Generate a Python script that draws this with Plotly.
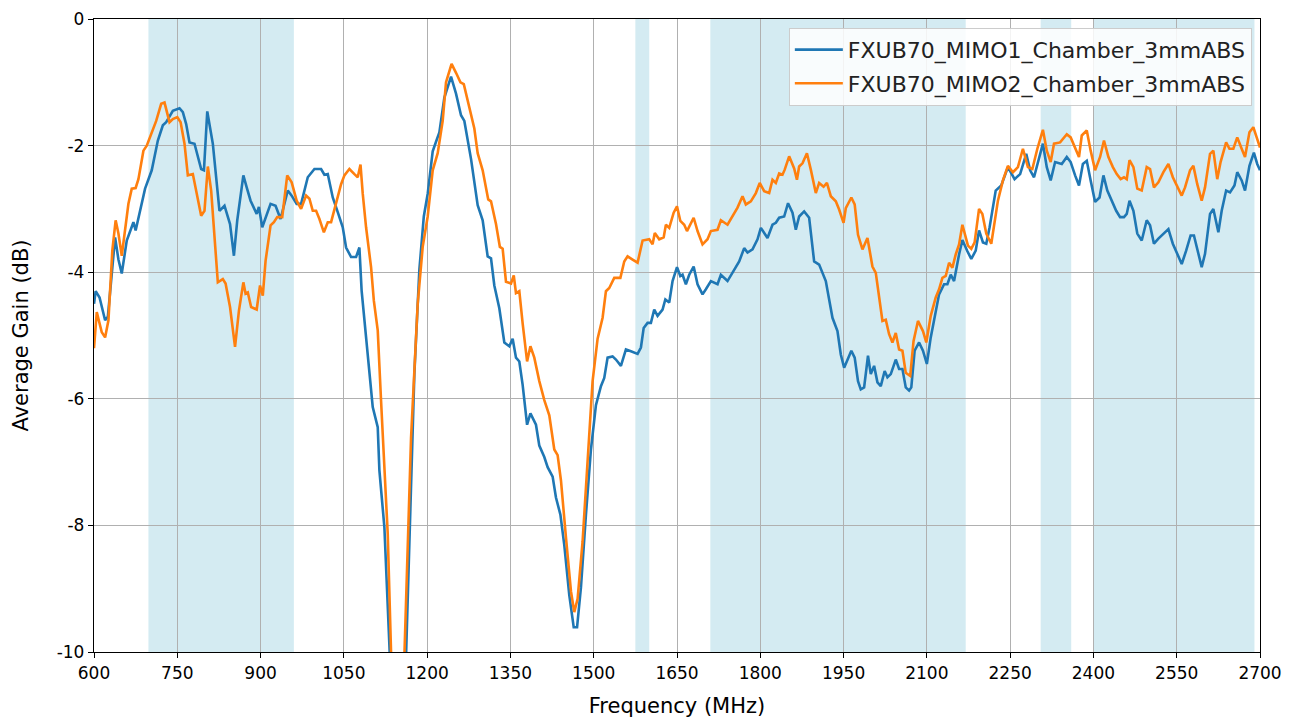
import plotly.graph_objects as go

# ---- data ----
freq_mimo1 = [600, 603, 610, 620, 625, 632, 638, 644, 650, 659, 671, 675, 684, 692, 704, 715, 724, 730, 742, 754, 760, 766, 772, 781, 793, 798, 804, 814, 826, 835, 845, 852, 858, 869, 875, 882, 893, 897, 903, 918, 927, 936, 949, 956, 965, 973, 985, 997, 1009, 1015, 1021, 1030, 1039, 1048, 1054, 1063, 1072, 1078, 1082, 1093, 1102, 1111, 1114, 1123, 1132, 1147, 1162, 1177, 1186, 1194, 1201, 1210, 1216, 1222, 1231, 1243, 1252, 1261, 1267, 1279, 1291, 1300, 1309, 1315, 1321, 1330, 1339, 1348, 1354, 1360, 1366, 1372, 1380, 1386, 1396, 1402, 1411, 1417, 1426, 1432, 1440, 1447, 1456, 1464, 1470, 1477, 1486, 1495, 1504, 1513, 1519, 1525, 1534, 1540, 1549, 1558, 1567, 1579, 1585, 1590, 1597, 1603, 1609, 1615, 1624, 1629, 1636, 1642, 1650, 1656, 1660, 1666, 1672, 1680, 1687, 1696, 1702, 1711, 1723, 1729, 1741, 1752, 1762, 1771, 1777, 1786, 1795, 1801, 1813, 1822, 1828, 1834, 1843, 1850, 1858, 1864, 1870, 1879, 1888, 1897, 1906, 1918, 1930, 1939, 1945, 1951, 1957, 1964, 1970, 1976, 1981, 1987, 1994, 1999, 2005, 2011, 2017, 2024, 2029, 2035, 2044, 2050, 2056, 2062, 2068, 2072, 2078, 2086, 2093, 2100, 2107, 2116, 2122, 2131, 2137, 2143, 2149, 2158, 2164, 2173, 2180, 2188, 2194, 2201, 2207, 2213, 2224, 2234, 2246, 2258, 2268, 2279, 2286, 2293, 2301, 2309, 2316, 2323, 2331, 2343, 2352, 2359, 2367, 2374, 2381, 2388, 2395, 2403, 2411, 2418, 2425, 2433, 2441, 2448, 2455, 2460, 2465, 2472, 2479, 2487, 2496, 2502, 2509, 2517, 2526, 2535, 2543, 2550, 2559, 2567, 2575, 2581, 2589, 2595, 2601, 2610, 2616, 2625, 2631, 2639, 2646, 2654, 2659, 2667, 2673, 2681, 2689, 2695, 2700]
gain_mimo1 = [-4.5, -4.3, -4.4, -4.76, -4.7, -4.0, -3.45, -3.8, -4.02, -3.5, -3.21, -3.34, -3.0, -2.68, -2.39, -1.92, -1.68, -1.63, -1.45, -1.41, -1.47, -1.66, -1.95, -1.97, -2.37, -2.39, -1.46, -1.97, -3.03, -2.95, -3.24, -3.74, -3.18, -2.47, -2.66, -2.87, -3.08, -2.97, -3.29, -2.92, -2.95, -3.16, -2.71, -2.79, -2.92, -2.92, -2.5, -2.37, -2.37, -2.46, -2.45, -2.82, -3.05, -3.29, -3.61, -3.76, -3.76, -3.61, -4.29, -5.24, -6.13, -6.45, -7.13, -8.03, -10.0, -13.0, -10.07, -5.6, -3.96, -3.12, -2.76, -2.09, -1.94, -1.79, -1.24, -0.91, -1.18, -1.52, -1.61, -2.21, -2.94, -3.18, -3.75, -3.78, -4.21, -4.57, -5.11, -5.17, -5.05, -5.35, -5.41, -5.78, -6.41, -6.23, -6.41, -6.74, -6.92, -7.08, -7.23, -7.56, -7.83, -8.31, -9.1, -9.61, -9.61, -8.98, -7.83, -6.8, -6.1, -5.8, -5.67, -5.35, -5.33, -5.38, -5.48, -5.22, -5.25, -5.29, -5.19, -4.88, -4.8, -4.8, -4.59, -4.69, -4.59, -4.43, -4.48, -4.14, -3.92, -4.06, -4.04, -4.19, -4.04, -3.91, -4.19, -4.35, -4.27, -4.14, -4.19, -4.04, -4.14, -3.98, -3.83, -3.62, -3.69, -3.64, -3.48, -3.3, -3.46, -3.25, -3.22, -3.14, -3.12, -2.91, -3.06, -3.33, -3.12, -3.04, -3.14, -3.83, -3.88, -4.14, -4.72, -4.93, -5.3, -5.51, -5.38, -5.24, -5.35, -5.72, -5.85, -5.82, -5.32, -5.61, -5.48, -5.74, -5.8, -5.56, -5.66, -5.61, -5.38, -5.53, -5.53, -5.82, -5.87, -5.82, -5.24, -5.11, -5.24, -5.45, -5.03, -4.61, -4.35, -4.19, -4.19, -4.04, -4.14, -3.72, -3.49, -3.67, -3.79, -3.66, -3.34, -3.53, -3.55, -3.29, -2.71, -2.63, -2.34, -2.53, -2.45, -2.13, -2.39, -2.5, -2.24, -1.97, -2.34, -2.55, -2.26, -2.29, -2.18, -2.26, -2.47, -2.63, -2.29, -2.24, -2.55, -2.89, -2.82, -2.47, -2.71, -2.87, -3.03, -3.13, -3.13, -3.08, -2.87, -3.03, -3.39, -3.5, -3.18, -3.26, -3.55, -3.47, -3.39, -3.32, -3.55, -3.68, -3.87, -3.66, -3.42, -3.42, -3.71, -3.92, -3.71, -3.08, -3.0, -3.37, -3.03, -2.71, -2.74, -2.63, -2.42, -2.55, -2.71, -2.32, -2.11, -2.29, -2.39]

freq_mimo2 = [600, 605, 614, 620, 626, 633, 639, 644, 650, 656, 662, 668, 675, 680, 689, 695, 704, 712, 721, 727, 736, 742, 750, 756, 763, 769, 778, 787, 793, 799, 805, 811, 817, 823, 832, 837, 845, 854, 861, 869, 873, 877, 883, 893, 899, 904, 909, 918, 924, 930, 939, 948, 956, 965, 973, 982, 988, 994, 1000, 1006, 1014, 1021, 1027, 1036, 1045, 1051, 1060, 1069, 1075, 1080, 1084, 1090, 1099, 1104, 1111, 1117, 1123, 1129, 1135, 1147, 1159, 1171, 1183, 1192, 1201, 1210, 1219, 1228, 1234, 1244, 1252, 1260, 1266, 1276, 1285, 1291, 1300, 1310, 1315, 1324, 1331, 1336, 1342, 1351, 1356, 1360, 1366, 1372, 1380, 1386, 1393, 1402, 1411, 1420, 1429, 1435, 1441, 1450, 1459, 1465, 1471, 1480, 1489, 1498, 1507, 1516, 1522, 1528, 1537, 1548, 1555, 1561, 1570, 1579, 1588, 1600, 1606, 1610, 1618, 1626, 1630, 1636, 1644, 1650, 1656, 1663, 1668, 1674, 1680, 1687, 1696, 1705, 1711, 1723, 1729, 1741, 1750, 1759, 1768, 1774, 1783, 1792, 1799, 1807, 1816, 1822, 1828, 1834, 1840, 1844, 1852, 1861, 1866, 1870, 1876, 1884, 1891, 1900, 1906, 1914, 1920, 1927, 1936, 1942, 1950, 1954, 1964, 1970, 1976, 1984, 1993, 2002, 2008, 2014, 2020, 2026, 2032, 2038, 2044, 2050, 2056, 2062, 2070, 2076, 2084, 2093, 2099, 2107, 2116, 2122, 2128, 2134, 2140, 2146, 2152, 2158, 2164, 2174, 2180, 2186, 2194, 2200, 2207, 2216, 2219, 2228, 2237, 2246, 2255, 2264, 2273, 2282, 2290, 2299, 2309, 2316, 2323, 2329, 2340, 2346, 2352, 2359, 2367, 2374, 2379, 2388, 2395, 2403, 2412, 2419, 2427, 2435, 2442, 2449, 2455, 2460, 2465, 2472, 2479, 2487, 2496, 2502, 2509, 2517, 2526, 2535, 2543, 2550, 2559, 2565, 2574, 2580, 2587, 2595, 2601, 2610, 2616, 2623, 2629, 2639, 2645, 2652, 2659, 2667, 2673, 2681, 2688, 2694, 2700]
gain_mimo2 = [-5.2, -4.63, -4.95, -5.03, -4.76, -3.66, -3.18, -3.39, -3.74, -3.32, -2.92, -2.68, -2.67, -2.53, -2.08, -2.0, -1.79, -1.61, -1.34, -1.32, -1.63, -1.58, -1.55, -1.63, -1.97, -2.47, -2.45, -2.82, -3.11, -3.03, -2.33, -2.71, -3.39, -4.16, -4.11, -4.18, -4.55, -5.18, -4.61, -4.16, -4.34, -4.32, -4.55, -4.59, -4.21, -4.37, -3.82, -3.26, -3.21, -3.13, -3.13, -2.47, -2.58, -2.87, -3.0, -2.79, -2.84, -3.03, -3.03, -3.16, -3.37, -3.21, -3.21, -2.92, -2.61, -2.47, -2.37, -2.45, -2.5, -2.3, -2.76, -3.29, -3.92, -4.45, -4.92, -6.03, -7.13, -8.13, -10.0, -14.0, -10.07, -6.62, -4.5, -3.6, -3.12, -2.39, -2.12, -1.61, -1.0, -0.71, -0.85, -1.0, -1.03, -1.4, -1.73, -2.12, -2.39, -2.85, -2.88, -3.24, -3.6, -3.63, -4.15, -4.18, -4.05, -4.33, -4.3, -4.81, -5.41, -5.17, -5.35, -5.72, -6.02, -6.26, -6.8, -6.89, -7.29, -8.19, -9.04, -9.37, -9.16, -8.25, -6.92, -5.72, -5.05, -4.72, -4.3, -4.25, -4.09, -4.09, -3.83, -3.75, -3.8, -3.85, -3.5, -3.48, -3.56, -3.38, -3.48, -3.45, -3.25, -3.3, -3.06, -2.96, -3.19, -3.25, -3.35, -3.25, -3.14, -3.35, -3.56, -3.48, -3.35, -3.33, -3.18, -3.25, -3.12, -2.98, -2.8, -2.93, -2.88, -2.75, -2.59, -2.72, -2.75, -2.54, -2.59, -2.44, -2.46, -2.38, -2.17, -2.36, -2.54, -2.33, -2.28, -2.12, -2.38, -2.75, -2.59, -2.65, -2.59, -2.8, -2.88, -3.01, -3.22, -2.99, -2.82, -2.93, -3.41, -3.64, -3.46, -3.91, -4.01, -4.4, -4.77, -4.75, -4.98, -5.11, -4.96, -5.22, -5.24, -5.59, -5.64, -5.09, -4.77, -4.93, -5.11, -4.69, -4.4, -4.27, -4.09, -4.06, -3.85, -3.93, -3.72, -3.56, -3.25, -3.58, -3.63, -3.53, -3.0, -3.08, -3.39, -3.55, -3.39, -2.87, -2.55, -2.32, -2.42, -2.34, -2.05, -2.34, -2.37, -2.05, -1.75, -2.08, -2.26, -1.97, -1.95, -1.89, -1.82, -1.87, -2.05, -2.18, -1.84, -1.76, -2.08, -2.39, -2.18, -1.92, -2.18, -2.34, -2.45, -2.53, -2.5, -2.53, -2.23, -2.34, -2.68, -2.71, -2.34, -2.37, -2.66, -2.58, -2.42, -2.29, -2.5, -2.63, -2.79, -2.66, -2.39, -2.32, -2.61, -2.87, -2.66, -2.13, -2.08, -2.53, -2.26, -1.95, -2.05, -2.05, -1.87, -2.05, -2.18, -1.79, -1.71, -1.87, -2.03]

band_starts = [698, 1575, 1710, 2305, 2400]
band_ends = [960, 1600, 2170, 2360, 2690]

series_names = ["FXUB70_MIMO1_Chamber_3mmABS", "FXUB70_MIMO2_Chamber_3mmABS"]
x_ticks = [600, 750, 900, 1050, 1200, 1350, 1500, 1650, 1800, 1950, 2100, 2250, 2400, 2550, 2700]
y_ticks = [0, -2, -4, -6, -8, -10]

FONT = "DejaVu Sans"

fig = go.Figure()
fig.add_trace(go.Scatter(x=freq_mimo1, y=gain_mimo1, mode="lines", name=series_names[0],
                         legendgroup="a", line=dict(color="#1f77b4", width=2.6)))
fig.add_trace(go.Scatter(x=freq_mimo2, y=gain_mimo2, mode="lines", name=series_names[1],
                         legendgroup="b", line=dict(color="#ff7f0e", width=2.6)))

for s, e in zip(band_starts, band_ends):
    fig.add_vrect(x0=s, x1=e, fillcolor="rgba(173,216,230,0.52)", line_width=0, layer="below")

axis_common = dict(showline=True, linecolor="black", linewidth=1.3, mirror=True,
                   ticks="outside", ticklen=5, tickwidth=1.2, tickcolor="black",
                   showgrid=True, gridcolor="#b0b0b0", gridwidth=1.4, zeroline=False,
                   automargin=False,
                   tickfont=dict(family=FONT, size=17, color="black"),
                   title_font=dict(family=FONT, size=21, color="black"))

fig.update_xaxes(range=[600, 2700], tickvals=x_ticks, ticktext=[str(v) for v in x_ticks],
                 title_text="Frequency (MHz)", title_standoff=16, **axis_common)
fig.update_yaxes(range=[-10, 0], tickvals=y_ticks, ticktext=[str(v) for v in y_ticks],
                 title_text="Average Gain (dB)", title_standoff=22, **axis_common)

fig.update_layout(
    width=1301, height=724,
    margin=dict(l=86, r=49, t=11, b=80),
    plot_bgcolor="white", paper_bgcolor="white",
    font=dict(family=FONT, size=17, color="black"),
    showlegend=True,
    legend=dict(x=0.993, y=0.986, xanchor="right", yanchor="top",
                bgcolor="rgba(255,255,255,0.85)", bordercolor="#cccccc", borderwidth=1,
                font=dict(family=FONT, size=22, color="#222222"),
                traceorder="grouped", tracegroupgap=2, itemwidth=48),
)

fig.write_html("out.html")
